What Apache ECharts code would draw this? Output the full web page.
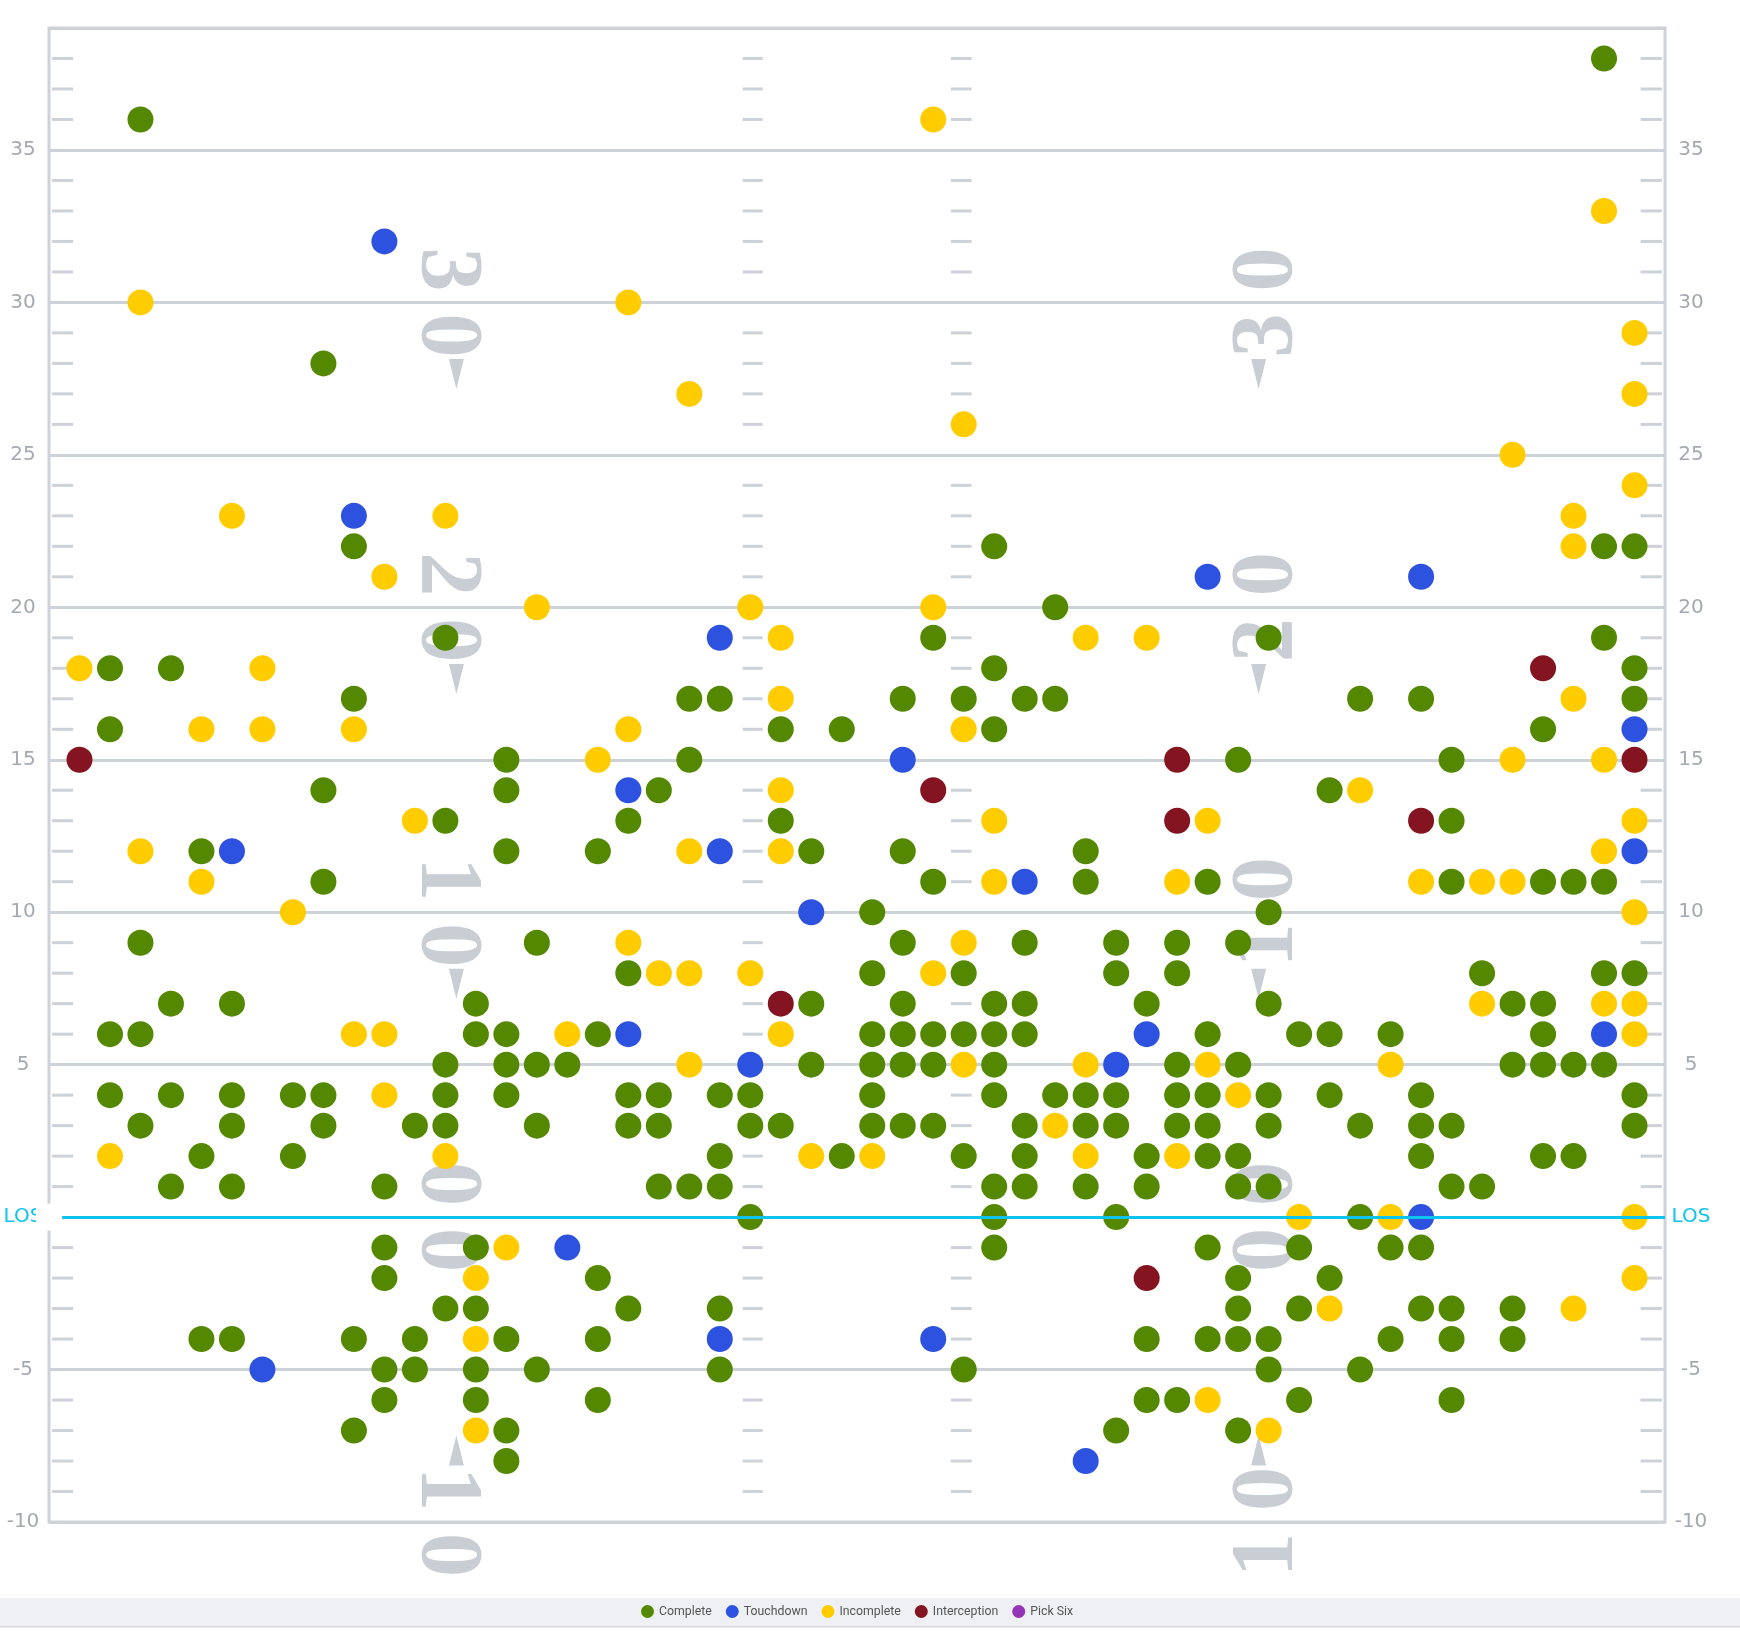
<!DOCTYPE html>
<html>
<head>
<meta charset="utf-8">
<script src="https://cdn.jsdelivr.net/npm/echarts@6/dist/echarts.min.js"></script>
<style>
html,body{margin:0;padding:0;background:#fff;}
#chart{width:1740px;height:1631px;}
</style>
</head>
<body>
<div id="chart"></div>
<script>
// ---- data (x = yards across field, y = yards from line of scrimmage) ----
const complete = [
 [51,38],[3,36],[9,28],
 [10,22],[31,22],[51,22],[52,22],
 [33,20],
 [13,19],[29,19],[40,19],[51,19],
 [2,18],[4,18],[31,18],[52,18],
 [10,17],[21,17],[22,17],[28,17],[30,17],[32,17],[33,17],[43,17],[45,17],[52,17],
 [2,16],[24,16],[26,16],[31,16],[49,16],
 [15,15],[21,15],[39,15],[46,15],
 [9,14],[15,14],[20,14],[42,14],
 [13,13],[19,13],[24,13],[46,13],
 [5,12],[15,12],[18,12],[25,12],[28,12],[34,12],
 [9,11],[29,11],[34,11],[38,11],[46,11],[49,11],[50,11],[51,11],
 [27,10],[40,10],
 [3,9],[16,9],[28,9],[32,9],[35,9],[37,9],[39,9],
 [19,8],[27,8],[30,8],[35,8],[37,8],[47,8],[51,8],[52,8],
 [4,7],[6,7],[14,7],[25,7],[28,7],[31,7],[32,7],[36,7],[40,7],[48,7],[49,7],
 [2,6],[3,6],[14,6],[15,6],[18,6],[27,6],[28,6],[29,6],[30,6],[31,6],[32,6],[38,6],[41,6],[42,6],[44,6],[49,6],
 [13,5],[15,5],[16,5],[17,5],[25,5],[27,5],[28,5],[29,5],[31,5],[37,5],[39,5],[48,5],[49,5],[50,5],[51,5],
 [2,4],[4,4],[6,4],[8,4],[9,4],[13,4],[15,4],[19,4],[20,4],[22,4],[23,4],[27,4],[31,4],[33,4],[34,4],[35,4],[37,4],[38,4],[40,4],[42,4],[45,4],[52,4],
 [3,3],[6,3],[9,3],[12,3],[13,3],[16,3],[19,3],[20,3],[23,3],[24,3],[27,3],[28,3],[29,3],[32,3],[34,3],[35,3],[37,3],[38,3],[40,3],[43,3],[45,3],[46,3],[52,3],
 [5,2],[8,2],[22,2],[26,2],[30,2],[32,2],[36,2],[38,2],[39,2],[45,2],[49,2],[50,2],
 [4,1],[6,1],[11,1],[20,1],[21,1],[22,1],[31,1],[32,1],[34,1],[36,1],[39,1],[40,1],[46,1],[47,1],
 [23,0],[31,0],[35,0],[43,0],
 [11,-1],[14,-1],[31,-1],[38,-1],[41,-1],[44,-1],[45,-1],
 [11,-2],[18,-2],[39,-2],[42,-2],
 [13,-3],[14,-3],[19,-3],[22,-3],[39,-3],[41,-3],[45,-3],[46,-3],[48,-3],
 [5,-4],[6,-4],[10,-4],[12,-4],[15,-4],[18,-4],[36,-4],[38,-4],[39,-4],[40,-4],[44,-4],[46,-4],[48,-4],
 [11,-5],[12,-5],[14,-5],[16,-5],[22,-5],[30,-5],[40,-5],[43,-5],
 [11,-6],[14,-6],[18,-6],[36,-6],[37,-6],[41,-6],[46,-6],
 [10,-7],[15,-7],[35,-7],[39,-7],
 [15,-8]
];
const touchdown = [
 [11,32],[10,23],[38,21],[45,21],[22,19],[52,16],[28,15],[19,14],[6,12],[22,12],[52,12],
 [32,11],[25,10],[19,6],[36,6],[51,6],[23,5],[35,5],[45,0],[17,-1],[22,-4],[29,-4],[7,-5],[34,-8]
];
const incomplete = [
 [29,36],[51,33],[3,30],[19,30],[52,29],[21,27],[52,27],[30,26],[48,25],[52,24],
 [6,23],[13,23],[50,23],[50,22],[11,21],[16,20],[23,20],[29,20],
 [24,19],[34,19],[36,19],[1,18],[7,18],[24,17],[50,17],
 [5,16],[7,16],[10,16],[19,16],[30,16],[18,15],[48,15],[51,15],[24,14],[43,14],
 [12,13],[31,13],[38,13],[52,13],[3,12],[21,12],[24,12],[51,12],
 [5,11],[31,11],[37,11],[45,11],[47,11],[48,11],[8,10],[52,10],[19,9],[30,9],
 [20,8],[21,8],[23,8],[29,8],[47,7],[51,7],[52,7],
 [10,6],[11,6],[17,6],[24,6],[52,6],[21,5],[30,5],[34,5],[38,5],[44,5],
 [11,4],[39,4],[33,3],[2,2],[13,2],[25,2],[27,2],[34,2],[37,2],
 [41,0],[44,0],[52,0],[15,-1],[14,-2],[52,-2],[42,-3],[50,-3],[14,-4],[38,-6],[14,-7],[40,-7]
];
const interception = [[49,18],[1,15],[37,15],[52,15],[29,14],[37,13],[45,13],[24,7],[36,-2]];
const pickSix = [];

const seriesNames = ['Complete','Touchdown','Incomplete','Interception','Pick Six'];
const yardTicks = [-9,-8,-7,-6,-4,-3,-2,-1,1,2,3,4,6,7,8,9,11,12,13,14,16,17,18,19,21,22,23,24,26,27,28,29,31,32,33,34,36,37,38];
const fieldLines = [30,20,10,0,-10];
const fieldLabels = ['30','20','10','00','10'];
const losLabel = 'LOS';

// ---- styles ----
const GRIDC = '#cdd1d8';
const LOSC = '#0fc3ef';
const NUMC = '#c9cdd4';
const colors = ['#538800','#2c52df','#ffcc00','#831420','#9535b5'];

const chart = echarts.init(document.getElementById('chart'), null, {renderer:'canvas'});

function yFmt(v){
  v = Number(v);
  if (v === 0) return '{los|' + losLabel + '}';
  if (v > 35) return '';
  return String(v);
}
const axisLabelCommon = {
  margin: 26, align: 'center', fontFamily: 'DejaVu Sans', fontSize: 20, color: '#a4a9b1',
  formatter: yFmt,
  rich: { los: { color: LOSC, fontFamily: 'DejaVu Sans', fontSize: 20 } }
};

const hashSegs = [[0.1,0.79],[22.75,23.41],[29.58,30.26],[52.2,52.9]];

const option = {
  animation: false,
  backgroundColor: '#ffffff',
  grid: { left: 49, right: 75, top: 28, bottom: 109, show: true, borderColor: GRIDC, borderWidth: 3 },
  xAxis: { type: 'value', min: 0, max: 53, show: false },
  yAxis: [
    { type: 'value', min: -10, max: 39, interval: 5, position: 'left',
      axisLine: {show:false}, axisTick: {show:false},
      splitLine: {show:true, lineStyle:{color: GRIDC, width: 3}},
      axisLabel: axisLabelCommon },
    { type: 'value', min: -10, max: 39, interval: 5, position: 'right',
      axisLine: {show:false}, axisTick: {show:false}, splitLine: {show:false},
      axisLabel: axisLabelCommon }
  ],
  legend: {
    data: seriesNames, left: 641, top: 1605, padding: 0, icon: 'circle',
    itemWidth: 13, itemHeight: 13, itemGap: 14,
    textStyle: { fontFamily: 'Roboto', fontSize: 12.3, color: '#555' }
  },
  graphic: [
    { type: 'rect', left: 0, top: 1598, z: 0, silent: true, shape: {width: 1740, height: 28}, style: {fill: '#eff0f4'} },
    { type: 'rect', left: 0, top: 1626, z: 0, silent: true, shape: {width: 1740, height: 1.5}, style: {fill: '#d3d6dc'} }
  ],
  series: [
    { type: 'custom', name: 'yardMarks', silent: true, clip: false, z: 1,
      data: yardTicks.map(v => [0, v]),
      renderItem: function(params, api){
        const y = api.value(1);
        return { type: 'group', children: hashSegs.map(function(s){
          const a = api.coord([s[0], y]), b = api.coord([s[1], y]);
          return { type: 'line', shape: {x1:a[0], y1:a[1], x2:b[0], y2:b[1]}, style: {stroke: GRIDC, lineWidth: 3} };
        })};
      },
      markLine: { silent: true, symbol: ['none','none'], label: {show:false},
        lineStyle: { color: LOSC, width: 3, type: 'solid' },
        data: [[{coord:[0.43,0]},{coord:[53,0]}]] },
      markPoint: { silent: true, symbol: 'rect', symbolSize: [26,27], itemStyle: {color:'#ffffff'}, label: {show:false},
        data: [{coord:[0,0]}] }
    },
    { type: 'custom', name: 'fieldNumbers', silent: true, clip: false, z: 1,
      data: fieldLines.map(v => [0, v]),
      renderItem: function(params, api){
        const L = api.value(1);
        const s = fieldLabels[params.dataIndex];
        const pl = api.coord([13, L]);
        const pr = api.coord([40, L]);
        const txt = function(x, y, ch, rot){
          return { type: 'text', x: x, y: y, rotation: rot,
            style: { text: ch, fontSize: 88, fontFamily: 'Liberation Serif', fontWeight: 'bold',
                     fill: NUMC, align: 'center', verticalAlign: 'middle' } };
        };
        const ch = [
          txt(pl[0], pl[1] - 33, s[0], -Math.PI/2),
          txt(pl[0], pl[1] + 33, s[1], -Math.PI/2),
          txt(pr[0], pr[1] + 33, s[0], Math.PI/2),
          txt(pr[0], pr[1] - 33, s[1], Math.PI/2)
        ];
        if (L !== 0) {
          const d = L > 0 ? 1 : -1;
          const ay = pl[1] + d * 71.6;
          const arrow = function(x){
            return { type: 'polygon', shape: { points: [[x-7.5, ay-15*d],[x+7.5, ay-15*d],[x, ay+15*d]] }, style: { fill: NUMC } };
          };
          ch.push(arrow(pl[0] + 11));
          ch.push(arrow(pr[0] - 10));
        }
        return { type: 'group', children: ch };
      }
    },
    { type: 'scatter', name: seriesNames[0], data: complete, symbolSize: 26, z: 3, itemStyle: {color: colors[0], opacity: 1} },
    { type: 'scatter', name: seriesNames[1], data: touchdown, symbolSize: 26, z: 3, itemStyle: {color: colors[1], opacity: 1} },
    { type: 'scatter', name: seriesNames[2], data: incomplete, symbolSize: 26, z: 3, itemStyle: {color: colors[2], opacity: 1} },
    { type: 'scatter', name: seriesNames[3], data: interception, symbolSize: 26, z: 3, itemStyle: {color: colors[3], opacity: 1} },
    { type: 'scatter', name: seriesNames[4], data: pickSix, symbolSize: 26, z: 3, itemStyle: {color: colors[4], opacity: 1} }
  ]
};
chart.setOption(option);
</script>
</body>
</html>
